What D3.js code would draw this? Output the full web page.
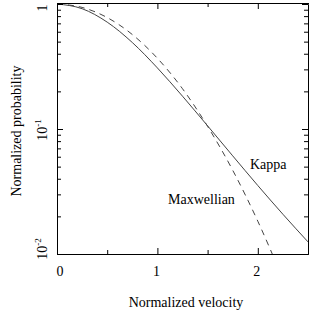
<!DOCTYPE html>
<html>
<head>
<meta charset="utf-8">
<script src="https://cdn.jsdelivr.net/npm/d3@7"></script>
<style>
  body { margin: 0; background: #fff; }
  svg { display: block; }
</style>
</head>
<body>
<svg id="chart" width="326" height="313"></svg>
<script>
// values
const kappaVelocity = [0, 0.25, 0.5, 0.75, 1.0, 1.25, 1.5, 1.75, 2.0, 2.25, 2.5];
const kappaProb = [1.0, 0.917, 0.716, 0.492, 0.308, 0.183, 0.106, 0.061, 0.0353, 0.0208, 0.0125];

const maxwellVelocity = [0, 0.25, 0.5, 0.75, 1.0, 1.25, 1.5, 1.75, 2.0, 2.25];
const maxwellProb = [1.0, 0.939, 0.779, 0.570, 0.368, 0.210, 0.105, 0.0468, 0.0183, 0.0063];

const xMajorTicks = [0, 1, 2];
const xMinorTicks = [0.5, 1.5];
const yMajorTicks = [0.01, 0.1, 1];
const yMinorTicks = [0.02, 0.03, 0.04, 0.05, 0.06, 0.07, 0.08, 0.09,
                     0.2, 0.3, 0.4, 0.5, 0.6, 0.7, 0.8, 0.9];
const yTickLabels = [["10", "-2"], ["10", "-1"], ["1", ""]];

const svg = d3.select("#chart");
const font = "'Liberation Serif', 'Times New Roman', serif";
const plotLeft = 57, plotRight = 308, plotTop = 3, plotBottom = 254;

const x = d3.scaleLinear().domain([0, 2.5]).range([plotLeft, plotRight]);
const y = d3.scaleLog().domain([0.01, 1]).range([plotBottom, plotTop + 1]);

// clip for the curves
svg.append("defs").append("clipPath").attr("id", "plot")
    .append("rect")
    .attr("x", plotLeft).attr("y", plotTop)
    .attr("width", plotRight - plotLeft + 1).attr("height", plotBottom - plotTop + 1);

// curves
const line = d3.line()
    .x(d => x(d[0]))
    .y(d => y(d[1]))
    .curve(d3.curveMonotoneX);

const curves = svg.append("g").attr("clip-path", "url(#plot)");

curves.append("path")
    .datum(kappaVelocity.map((v, i) => [v, kappaProb[i]]))
    .attr("fill", "none")
    .attr("stroke", "#444")
    .attr("stroke-width", 1)
    .attr("d", line);

curves.append("path")
    .datum(maxwellVelocity.map((v, i) => [v, maxwellProb[i]]))
    .attr("fill", "none")
    .attr("stroke", "#444")
    .attr("stroke-width", 1)
    .attr("stroke-dasharray", "6,5")
    .attr("d", line);

// frame + inward ticks on all four sides
function styleAxis(g) {
    g.selectAll("path.domain").attr("stroke", "#000");
    g.selectAll("line").attr("stroke", "#000");
}

svg.append("g").attr("transform", `translate(0,${plotBottom})`)
    .call(d3.axisBottom(x).tickValues(xMajorTicks).tickSize(-6).tickSizeOuter(0).tickFormat(""))
    .call(styleAxis);
svg.append("g").attr("transform", `translate(0,${plotBottom})`)
    .call(d3.axisBottom(x).tickValues(xMinorTicks).tickSize(-4).tickSizeOuter(0).tickFormat(""))
    .call(styleAxis);
svg.append("g").attr("transform", `translate(0,${plotTop})`)
    .call(d3.axisTop(x).tickValues(xMajorTicks).tickSize(-6).tickSizeOuter(0).tickFormat(""))
    .call(styleAxis);
svg.append("g").attr("transform", `translate(0,${plotTop})`)
    .call(d3.axisTop(x).tickValues(xMinorTicks).tickSize(-4).tickSizeOuter(0).tickFormat(""))
    .call(styleAxis);

svg.append("g").attr("transform", `translate(${plotLeft},0)`)
    .call(d3.axisLeft(y).tickValues(yMajorTicks).tickSize(-6).tickSizeOuter(0).tickFormat(""))
    .call(styleAxis);
svg.append("g").attr("transform", `translate(${plotLeft},0)`)
    .call(d3.axisLeft(y).tickValues(yMinorTicks).tickSize(-4).tickSizeOuter(0).tickFormat(""))
    .call(styleAxis);
svg.append("g").attr("transform", `translate(${plotRight},0)`)
    .call(d3.axisRight(y).tickValues(yMajorTicks).tickSize(-6).tickSizeOuter(0).tickFormat(""))
    .call(styleAxis);
svg.append("g").attr("transform", `translate(${plotRight},0)`)
    .call(d3.axisRight(y).tickValues(yMinorTicks).tickSize(-4).tickSizeOuter(0).tickFormat(""))
    .call(styleAxis);

// top edge of the frame
svg.append("line")
    .attr("x1", plotLeft).attr("x2", plotRight + 1)
    .attr("y1", plotTop + 0.5).attr("y2", plotTop + 0.5)
    .attr("stroke", "#000");

// x tick labels
svg.append("g").selectAll("text")
    .data(xMajorTicks)
    .join("text")
    .attr("x", d => x(d) + (d === 0 ? 3 : -1))
    .attr("y", 276)
    .attr("text-anchor", "middle")
    .attr("font-family", font)
    .attr("font-size", 14)
    .text(d => d);

// y tick labels, rotated
const yLab = svg.append("g").selectAll("text")
    .data(yMajorTicks)
    .join("text")
    .attr("transform", (d, i) => {
        let cy = y(d) + 1;
        if (i === 0) cy = y(d) - 5;
        if (i === 2) cy = y(d) + 4;
        return `translate(47,${cy}) rotate(-90)`;
    })
    .attr("text-anchor", "middle")
    .attr("font-family", font)
    .attr("font-size", 14);

yLab.append("tspan").text((d, i) => yTickLabels[i][0]);
yLab.append("tspan")
    .attr("font-size", 9)
    .attr("dy", -6)
    .text((d, i) => yTickLabels[i][1]);

// axis titles
svg.append("text")
    .attr("x", 186)
    .attr("y", 307)
    .attr("text-anchor", "middle")
    .attr("font-family", font)
    .attr("font-size", 14)
    .text("Normalized velocity");

svg.append("text")
    .attr("transform", "translate(21,131) rotate(-90)")
    .attr("text-anchor", "middle")
    .attr("font-family", font)
    .attr("font-size", 14)
    .text("Normalized probability");

// curve labels
svg.append("text")
    .attr("x", 250).attr("y", 169)
    .attr("font-family", font)
    .attr("font-size", 14)
    .text("Kappa");

svg.append("text")
    .attr("x", 168).attr("y", 204)
    .attr("font-family", font)
    .attr("font-size", 14)
    .text("Maxwellian");
</script>
</body>
</html>
